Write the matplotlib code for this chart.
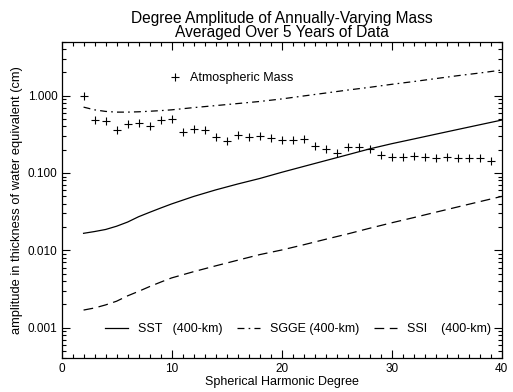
import matplotlib
matplotlib.use("Agg")
import matplotlib.pyplot as plt
from matplotlib.ticker import FixedLocator, LogLocator, MultipleLocator, NullFormatter

plt.rcParams['font.family'] = ['Liberation Sans', 'DejaVu Sans']
plt.rcParams['lines.scale_dashes'] = False

# Atmospheric mass (crosses)
atm_deg = list(range(2, 40))
atm_val = [1.00, 0.478, 0.464, 0.363, 0.433, 0.442, 0.408, 0.488, 0.497, 0.335,
           0.370, 0.356, 0.292, 0.257, 0.313, 0.292, 0.304, 0.284, 0.265, 0.267,
           0.272, 0.223, 0.207, 0.180, 0.217, 0.216, 0.203, 0.169, 0.162, 0.162,
           0.165, 0.162, 0.155, 0.162, 0.154, 0.157, 0.157, 0.142]

# Mission curves
line_deg = [2, 3, 4, 5, 6, 7, 8, 9, 10, 12, 14, 16, 18, 20, 22, 24, 26, 28, 30,
            32, 34, 36, 38, 40]
sst_val = [0.0166, 0.0175, 0.0186, 0.0205, 0.0232, 0.0272, 0.0310, 0.0352, 0.0398,
           0.0497, 0.0604, 0.0720, 0.0848, 0.102, 0.1215, 0.1446, 0.172, 0.205,
           0.239, 0.275, 0.317, 0.365, 0.420, 0.483]
sgge_val = [0.71, 0.655, 0.625, 0.612, 0.612, 0.618, 0.628, 0.640, 0.655, 0.70,
            0.743, 0.79, 0.84, 0.906, 0.99, 1.08, 1.18, 1.28, 1.40, 1.52, 1.66,
            1.81, 1.96, 2.14]
ssi_val = [0.00169, 0.00180, 0.00197, 0.00220, 0.00258, 0.00295, 0.00340, 0.00388,
           0.00440, 0.00530, 0.00630, 0.00745, 0.00880, 0.0101, 0.0118, 0.0139,
           0.0163, 0.0193, 0.0227, 0.0265, 0.0311, 0.0364, 0.0426, 0.0498]

labels = ['SST   (400-km)', 'SGGE (400-km)', 'SSI    (400-km)']
atm_label = 'Atmospheric Mass'
title = 'Degree Amplitude of Annually-Varying Mass\nAveraged Over 5 Years of Data'
xlabel = 'Spherical Harmonic Degree'
ylabel = 'amplitude in thickness of water equivalent (cm)'
ytick_vals = [0.001, 0.01, 0.1, 1.0]
ytick_labels = ['0.001', '0.010', '0.100', '1.000']

fig = plt.figure(figsize=(5.13, 3.92), dpi=100)
ax = fig.add_axes([0.120, 0.0855, 0.858, 0.8085])

ax.set_yscale('log')
ax.set_xlim(0, 40)
ax.set_ylim(4e-4, 5.0)

h_atm, = ax.plot(atm_deg, atm_val, linestyle='none', marker='+', color='black',
                 markersize=6, markeredgewidth=0.8)
h1, = ax.plot(line_deg, sst_val, color='black', lw=0.9)
h2, = ax.plot(line_deg, sgge_val, color='black', lw=0.9, dashes=(5, 3, 1.2, 3))
h3, = ax.plot(line_deg, ssi_val, color='black', lw=0.9, dashes=(7, 4))

ax.yaxis.set_major_locator(FixedLocator(ytick_vals))
ax.set_yticklabels(ytick_labels)
ax.yaxis.set_minor_locator(LogLocator(base=10, subs=range(2, 10), numticks=20))
ax.yaxis.set_minor_formatter(NullFormatter())
ax.xaxis.set_major_locator(MultipleLocator(10))
ax.xaxis.set_minor_locator(MultipleLocator(1))

ax.tick_params(which='both', direction='in', top=True, right=True, width=0.8,
               labelsize=8.5, colors='black')
ax.tick_params(which='major', length=6, pad=3)
ax.tick_params(which='minor', length=3)
for s in ax.spines.values():
    s.set_linewidth(0.9)

ax.set_title(title, fontsize=11.2, linespacing=0.95, pad=3)
ax.set_xlabel(xlabel, fontsize=9, labelpad=1)
ax.set_ylabel(ylabel, fontsize=9.3, labelpad=3)

leg1 = ax.legend([h_atm], [atm_label], loc='center left', bbox_to_anchor=(0.243, 0.885),
                 frameon=False, fontsize=9, handlelength=1.0, handletextpad=0.7,
                 borderpad=0, borderaxespad=0)
ax.add_artist(leg1)
ax.legend([h1, h2, h3], labels, loc='center', bbox_to_anchor=(0.537, 0.093),
          frameon=False, fontsize=9, ncol=3, handlelength=1.8, handletextpad=0.8,
          columnspacing=1.2, borderpad=0, borderaxespad=0)

fig.savefig('out.png', dpi=100)
